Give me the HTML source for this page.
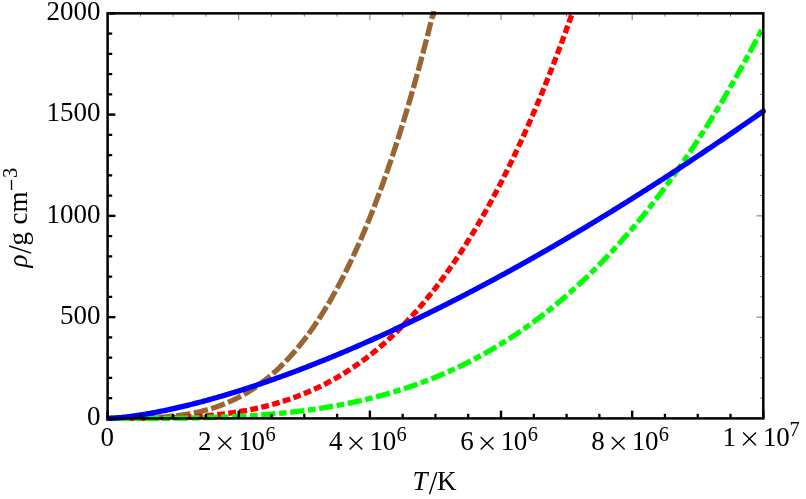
<!DOCTYPE html>
<html><head><meta charset="utf-8">
<style>
html,body{margin:0;padding:0;background:#fff;}
svg{display:block;will-change:transform;}
text{font-family:"Liberation Serif",serif;font-size:27px;fill:#000;}
</style></head>
<body>
<svg width="806" height="499" viewBox="0 0 806 499">
<rect width="806" height="499" fill="#fff"/>
<defs><clipPath id="c"><rect x="106.50" y="10.95" width="659.40" height="411.45"/></clipPath></defs>
<g clip-path="url(#c)" fill="none" stroke-width="5.3" stroke-linejoin="round" stroke-linecap="square">
<path d="M107.60,418.40 L108.69,418.40 L109.79,418.40 L110.88,418.40 L111.98,418.40 L113.07,418.40 L114.17,418.40 L115.26,418.40 L116.36,418.40 L117.45,418.40 L118.55,418.39 L119.64,418.39 L120.74,418.39 L121.83,418.38 L122.93,418.38 L124.02,418.38 L125.11,418.37 L126.21,418.36 L127.30,418.36 L128.40,418.35 L129.49,418.34 L130.59,418.33 L131.68,418.31 L132.78,418.30 L133.87,418.29 L134.97,418.27 L136.06,418.25 L137.16,418.23 L138.25,418.21 L139.35,418.19 L140.44,418.17 L141.53,418.14 L142.63,418.11 L143.72,418.08 L144.82,418.05 L145.91,418.01 L147.01,417.98 L148.10,417.94 L149.20,417.89 L150.29,417.85 L151.39,417.80 L152.48,417.75 L153.58,417.70 L154.67,417.64 L155.76,417.59 L156.86,417.52 L157.95,417.46 L159.05,417.39 L160.14,417.32 L161.24,417.25 L162.33,417.17 L163.43,417.08 L164.52,417.00 L165.62,416.91 L166.71,416.82 L167.81,416.72 L168.90,416.62 L170.00,416.51 L171.09,416.40 L172.18,416.29 L173.28,416.17 L174.37,416.05 L175.47,415.92 L176.56,415.79 L177.66,415.65 L178.75,415.51 L179.85,415.36 L180.94,415.21 L182.04,415.05 L183.13,414.89 L184.23,414.72 L185.32,414.55 L186.42,414.37 L187.51,414.18 L188.60,413.99 L189.70,413.79 L190.79,413.59 L191.89,413.38 L192.98,413.17 L194.08,412.95 L195.17,412.72 L196.27,412.48 L197.36,412.24 L198.46,412.00 L199.55,411.74 L200.65,411.48 L201.74,411.21 L202.84,410.94 L203.93,410.66 L205.02,410.37 L206.12,410.07 L207.21,409.76 L208.31,409.45 L209.40,409.13 L210.50,408.80 L211.59,408.47 L212.69,408.12 L213.78,407.77 L214.88,407.41 L215.97,407.04 L217.07,406.67 L218.16,406.28 L219.26,405.89 L220.35,405.48 L221.44,405.07 L222.54,404.65 L223.63,404.22 L224.73,403.78 L225.82,403.33 L226.92,402.87 L228.01,402.41 L229.11,401.93 L230.20,401.44 L231.30,400.94 L232.39,400.44 L233.49,399.92 L234.58,399.39 L235.67,398.86 L236.77,398.31 L237.86,397.75 L238.96,397.18 L240.05,396.60 L241.15,396.01 L242.24,395.41 L243.34,394.79 L244.43,394.17 L245.53,393.53 L246.62,392.89 L247.72,392.23 L248.81,391.56 L249.91,390.87 L251.00,390.18 L252.09,389.47 L253.19,388.76 L254.28,388.02 L255.38,387.28 L256.47,386.53 L257.57,385.76 L258.66,384.98 L259.76,384.18 L260.85,383.38 L261.95,382.56 L263.04,381.73 L264.14,380.88 L265.23,380.02 L266.33,379.15 L267.42,378.26 L268.51,377.36 L269.61,376.45 L270.70,375.52 L271.80,374.57 L272.89,373.62 L273.99,372.65 L275.08,371.66 L276.18,370.66 L277.27,369.65 L278.37,368.62 L279.46,367.57 L280.56,366.51 L281.65,365.44 L282.75,364.35 L283.84,363.24 L284.93,362.12 L286.03,360.98 L287.12,359.83 L288.22,358.66 L289.31,357.48 L290.41,356.28 L291.50,355.06 L292.60,353.83 L293.69,352.58 L294.79,351.31 L295.88,350.02 L296.98,348.72 L298.07,347.41 L299.17,346.07 L300.26,344.72 L301.35,343.35 L302.45,341.96 L303.54,340.56 L304.64,339.14 L305.73,337.70 L306.83,336.24 L307.92,334.76 L309.02,333.27 L310.11,331.76 L311.21,330.22 L312.30,328.67 L313.40,327.11 L314.49,325.52 L315.58,323.91 L316.68,322.29 L317.77,320.64 L318.87,318.98 L319.96,317.29 L321.06,315.59 L322.15,313.86 L323.25,312.12 L324.34,310.36 L325.44,308.57 L326.53,306.77 L327.63,304.95 L328.72,303.10 L329.82,301.24 L330.91,299.35 L332.00,297.44 L333.10,295.51 L334.19,293.57 L335.29,291.60 L336.38,289.60 L337.48,287.59 L338.57,285.55 L339.67,283.50 L340.76,281.42 L341.86,279.32 L342.95,277.19 L344.05,275.05 L345.14,272.88 L346.24,270.69 L347.33,268.48 L348.42,266.24 L349.52,263.98 L350.61,261.70 L351.71,259.39 L352.80,257.06 L353.90,254.71 L354.99,252.33 L356.09,249.93 L357.18,247.51 L358.28,245.06 L359.37,242.59 L360.47,240.09 L361.56,237.57 L362.66,235.03 L363.75,232.46 L364.84,229.86 L365.94,227.24 L367.03,224.60 L368.13,221.93 L369.22,219.23 L370.32,216.51 L371.41,213.76 L372.51,210.99 L373.60,208.19 L374.70,205.37 L375.79,202.52 L376.89,199.64 L377.98,196.74 L379.08,193.81 L380.17,190.85 L381.26,187.87 L382.36,184.86 L383.45,181.82 L384.55,178.75 L385.64,175.66 L386.74,172.54 L387.83,169.39 L388.93,166.22 L390.02,163.02 L391.12,159.78 L392.21,156.53 L393.31,153.24 L394.40,149.92 L395.49,146.58 L396.59,143.20 L397.68,139.80 L398.78,136.37 L399.87,132.91 L400.97,129.42 L402.06,125.90 L403.16,122.35 L404.25,118.77 L405.35,115.16 L406.44,111.53 L407.54,107.86 L408.63,104.16 L409.73,100.43 L410.82,96.67 L411.91,92.88 L413.01,89.06 L414.10,85.21 L415.20,81.33 L416.29,77.41 L417.39,73.47 L418.48,69.49 L419.58,65.48 L420.67,61.44 L421.77,57.37 L422.86,53.26 L423.96,49.13 L425.05,44.96 L426.15,40.76 L427.24,36.52 L428.33,32.26 L429.43,27.96 L430.52,23.62 L431.62,19.26 L432.71,14.86 L433.09,13.35" stroke="#996633" stroke-dasharray="9.2 8.69" stroke-dashoffset="0.25"/>
<path d="M107.60,418.40 L108.69,418.40 L109.79,418.40 L110.88,418.40 L111.98,418.40 L113.07,418.40 L114.17,418.40 L115.26,418.40 L116.36,418.40 L117.45,418.40 L118.55,418.40 L119.64,418.40 L120.74,418.40 L121.83,418.40 L122.93,418.39 L124.02,418.39 L125.11,418.39 L126.21,418.39 L127.30,418.39 L128.40,418.38 L129.49,418.38 L130.59,418.38 L131.68,418.37 L132.78,418.37 L133.87,418.36 L134.97,418.36 L136.06,418.35 L137.16,418.35 L138.25,418.34 L139.35,418.33 L140.44,418.33 L141.53,418.32 L142.63,418.31 L143.72,418.30 L144.82,418.29 L145.91,418.28 L147.01,418.27 L148.10,418.25 L149.20,418.24 L150.29,418.23 L151.39,418.21 L152.48,418.20 L153.58,418.18 L154.67,418.16 L155.76,418.14 L156.86,418.12 L157.95,418.10 L159.05,418.08 L160.14,418.06 L161.24,418.04 L162.33,418.01 L163.43,417.99 L164.52,417.96 L165.62,417.93 L166.71,417.90 L167.81,417.87 L168.90,417.84 L170.00,417.81 L171.09,417.77 L172.18,417.74 L173.28,417.70 L174.37,417.66 L175.47,417.62 L176.56,417.58 L177.66,417.53 L178.75,417.49 L179.85,417.44 L180.94,417.40 L182.04,417.35 L183.13,417.30 L184.23,417.24 L185.32,417.19 L186.42,417.13 L187.51,417.07 L188.60,417.01 L189.70,416.95 L190.79,416.89 L191.89,416.82 L192.98,416.75 L194.08,416.68 L195.17,416.61 L196.27,416.54 L197.36,416.46 L198.46,416.39 L199.55,416.31 L200.65,416.22 L201.74,416.14 L202.84,416.05 L203.93,415.96 L205.02,415.87 L206.12,415.78 L207.21,415.68 L208.31,415.59 L209.40,415.48 L210.50,415.38 L211.59,415.28 L212.69,415.17 L213.78,415.06 L214.88,414.94 L215.97,414.83 L217.07,414.71 L218.16,414.59 L219.26,414.46 L220.35,414.34 L221.44,414.21 L222.54,414.08 L223.63,413.94 L224.73,413.80 L225.82,413.66 L226.92,413.52 L228.01,413.37 L229.11,413.22 L230.20,413.07 L231.30,412.91 L232.39,412.75 L233.49,412.59 L234.58,412.42 L235.67,412.25 L236.77,412.08 L237.86,411.90 L238.96,411.73 L240.05,411.54 L241.15,411.36 L242.24,411.17 L243.34,410.97 L244.43,410.78 L245.53,410.58 L246.62,410.37 L247.72,410.17 L248.81,409.96 L249.91,409.74 L251.00,409.52 L252.09,409.30 L253.19,409.08 L254.28,408.85 L255.38,408.61 L256.47,408.37 L257.57,408.13 L258.66,407.89 L259.76,407.64 L260.85,407.38 L261.95,407.13 L263.04,406.86 L264.14,406.60 L265.23,406.33 L266.33,406.05 L267.42,405.77 L268.51,405.49 L269.61,405.20 L270.70,404.91 L271.80,404.62 L272.89,404.31 L273.99,404.01 L275.08,403.70 L276.18,403.38 L277.27,403.07 L278.37,402.74 L279.46,402.41 L280.56,402.08 L281.65,401.74 L282.75,401.40 L283.84,401.05 L284.93,400.70 L286.03,400.34 L287.12,399.98 L288.22,399.61 L289.31,399.24 L290.41,398.86 L291.50,398.48 L292.60,398.09 L293.69,397.70 L294.79,397.30 L295.88,396.89 L296.98,396.49 L298.07,396.07 L299.17,395.65 L300.26,395.23 L301.35,394.80 L302.45,394.36 L303.54,393.92 L304.64,393.47 L305.73,393.02 L306.83,392.56 L307.92,392.09 L309.02,391.62 L310.11,391.15 L311.21,390.67 L312.30,390.18 L313.40,389.69 L314.49,389.19 L315.58,388.68 L316.68,388.17 L317.77,387.65 L318.87,387.13 L319.96,386.60 L321.06,386.06 L322.15,385.52 L323.25,384.97 L324.34,384.42 L325.44,383.86 L326.53,383.29 L327.63,382.72 L328.72,382.14 L329.82,381.55 L330.91,380.96 L332.00,380.36 L333.10,379.75 L334.19,379.14 L335.29,378.52 L336.38,377.89 L337.48,377.26 L338.57,376.62 L339.67,375.97 L340.76,375.32 L341.86,374.65 L342.95,373.99 L344.05,373.31 L345.14,372.63 L346.24,371.94 L347.33,371.24 L348.42,370.54 L349.52,369.83 L350.61,369.11 L351.71,368.39 L352.80,367.65 L353.90,366.91 L354.99,366.17 L356.09,365.41 L357.18,364.65 L358.28,363.88 L359.37,363.10 L360.47,362.32 L361.56,361.52 L362.66,360.72 L363.75,359.92 L364.84,359.10 L365.94,358.28 L367.03,357.44 L368.13,356.60 L369.22,355.76 L370.32,354.90 L371.41,354.04 L372.51,353.16 L373.60,352.28 L374.70,351.40 L375.79,350.50 L376.89,349.59 L377.98,348.68 L379.08,347.76 L380.17,346.83 L381.26,345.89 L382.36,344.94 L383.45,343.99 L384.55,343.02 L385.64,342.05 L386.74,341.07 L387.83,340.08 L388.93,339.08 L390.02,338.07 L391.12,337.06 L392.21,336.03 L393.31,335.00 L394.40,333.96 L395.49,332.90 L396.59,331.84 L397.68,330.77 L398.78,329.69 L399.87,328.61 L400.97,327.51 L402.06,326.40 L403.16,325.28 L404.25,324.16 L405.35,323.02 L406.44,321.88 L407.54,320.73 L408.63,319.56 L409.73,318.39 L410.82,317.21 L411.91,316.02 L413.01,314.81 L414.10,313.60 L415.20,312.38 L416.29,311.15 L417.39,309.91 L418.48,308.66 L419.58,307.40 L420.67,306.13 L421.77,304.85 L422.86,303.55 L423.96,302.25 L425.05,300.94 L426.15,299.62 L427.24,298.29 L428.33,296.95 L429.43,295.59 L430.52,294.23 L431.62,292.86 L432.71,291.47 L433.81,290.08 L434.90,288.68 L436.00,287.26 L437.09,285.83 L438.19,284.40 L439.28,282.95 L440.38,281.49 L441.47,280.02 L442.57,278.54 L443.66,277.05 L444.75,275.55 L445.85,274.04 L446.94,272.51 L448.04,270.98 L449.13,269.43 L450.23,267.88 L451.32,266.31 L452.42,264.73 L453.51,263.14 L454.61,261.53 L455.70,259.92 L456.80,258.29 L457.89,256.66 L458.99,255.01 L460.08,253.35 L461.17,251.68 L462.27,249.99 L463.36,248.30 L464.46,246.59 L465.55,244.87 L466.65,243.14 L467.74,241.40 L468.84,239.64 L469.93,237.88 L471.03,236.10 L472.12,234.31 L473.22,232.51 L474.31,230.69 L475.41,228.86 L476.50,227.02 L477.59,225.17 L478.69,223.31 L479.78,221.43 L480.88,219.54 L481.97,217.64 L483.07,215.73 L484.16,213.80 L485.26,211.86 L486.35,209.91 L487.45,207.94 L488.54,205.97 L489.64,203.98 L490.73,201.97 L491.82,199.96 L492.92,197.93 L494.01,195.89 L495.11,193.83 L496.20,191.76 L497.30,189.68 L498.39,187.59 L499.49,185.48 L500.58,183.36 L501.68,181.22 L502.77,179.08 L503.87,176.91 L504.96,174.74 L506.06,172.55 L507.15,170.35 L508.24,168.13 L509.34,165.90 L510.43,163.66 L511.53,161.40 L512.62,159.13 L513.72,156.85 L514.81,154.55 L515.91,152.24 L517.00,149.91 L518.10,147.57 L519.19,145.22 L520.29,142.85 L521.38,140.47 L522.48,138.07 L523.57,135.66 L524.66,133.24 L525.76,130.80 L526.85,128.34 L527.95,125.87 L529.04,123.39 L530.14,120.89 L531.23,118.38 L532.33,115.85 L533.42,113.31 L534.52,110.76 L535.61,108.18 L536.71,105.60 L537.80,103.00 L538.90,100.38 L539.99,97.75 L541.08,95.11 L542.18,92.44 L543.27,89.77 L544.37,87.08 L545.46,84.37 L546.56,81.65 L547.65,78.91 L548.75,76.16 L549.84,73.39 L550.94,70.61 L552.03,67.81 L553.13,65.00 L554.22,62.17 L555.32,59.32 L556.41,56.46 L557.50,53.58 L558.60,50.69 L559.69,47.78 L560.79,44.86 L561.88,41.92 L562.98,38.96 L564.07,35.99 L565.17,33.00 L566.26,29.99 L567.36,26.97 L568.45,23.94 L569.55,20.88 L570.64,17.81 L571.73,14.73 L572.22,13.35" stroke="#ff0000" stroke-dasharray="2.5 8.67" stroke-dashoffset="-0.71"/>
<path d="M107.60,418.40 L108.69,418.40 L109.79,418.40 L110.88,418.40 L111.98,418.40 L113.07,418.40 L114.17,418.40 L115.26,418.40 L116.36,418.40 L117.45,418.40 L118.55,418.40 L119.64,418.40 L120.74,418.40 L121.83,418.40 L122.93,418.40 L124.02,418.40 L125.11,418.40 L126.21,418.40 L127.30,418.40 L128.40,418.39 L129.49,418.39 L130.59,418.39 L131.68,418.39 L132.78,418.39 L133.87,418.39 L134.97,418.39 L136.06,418.39 L137.16,418.38 L138.25,418.38 L139.35,418.38 L140.44,418.38 L141.53,418.37 L142.63,418.37 L143.72,418.37 L144.82,418.37 L145.91,418.36 L147.01,418.36 L148.10,418.35 L149.20,418.35 L150.29,418.35 L151.39,418.34 L152.48,418.34 L153.58,418.33 L154.67,418.32 L155.76,418.32 L156.86,418.31 L157.95,418.31 L159.05,418.30 L160.14,418.29 L161.24,418.29 L162.33,418.28 L163.43,418.27 L164.52,418.26 L165.62,418.25 L166.71,418.24 L167.81,418.23 L168.90,418.22 L170.00,418.21 L171.09,418.20 L172.18,418.19 L173.28,418.18 L174.37,418.17 L175.47,418.15 L176.56,418.14 L177.66,418.13 L178.75,418.11 L179.85,418.10 L180.94,418.08 L182.04,418.07 L183.13,418.05 L184.23,418.03 L185.32,418.02 L186.42,418.00 L187.51,417.98 L188.60,417.96 L189.70,417.94 L190.79,417.92 L191.89,417.90 L192.98,417.88 L194.08,417.86 L195.17,417.84 L196.27,417.81 L197.36,417.79 L198.46,417.76 L199.55,417.74 L200.65,417.71 L201.74,417.69 L202.84,417.66 L203.93,417.63 L205.02,417.60 L206.12,417.57 L207.21,417.54 L208.31,417.51 L209.40,417.48 L210.50,417.45 L211.59,417.41 L212.69,417.38 L213.78,417.34 L214.88,417.31 L215.97,417.27 L217.07,417.24 L218.16,417.20 L219.26,417.16 L220.35,417.12 L221.44,417.08 L222.54,417.03 L223.63,416.99 L224.73,416.95 L225.82,416.90 L226.92,416.86 L228.01,416.81 L229.11,416.76 L230.20,416.72 L231.30,416.67 L232.39,416.62 L233.49,416.57 L234.58,416.51 L235.67,416.46 L236.77,416.41 L237.86,416.35 L238.96,416.29 L240.05,416.24 L241.15,416.18 L242.24,416.12 L243.34,416.06 L244.43,415.99 L245.53,415.93 L246.62,415.87 L247.72,415.80 L248.81,415.73 L249.91,415.67 L251.00,415.60 L252.09,415.53 L253.19,415.46 L254.28,415.38 L255.38,415.31 L256.47,415.24 L257.57,415.16 L258.66,415.08 L259.76,415.00 L260.85,414.92 L261.95,414.84 L263.04,414.76 L264.14,414.67 L265.23,414.59 L266.33,414.50 L267.42,414.41 L268.51,414.33 L269.61,414.23 L270.70,414.14 L271.80,414.05 L272.89,413.95 L273.99,413.86 L275.08,413.76 L276.18,413.66 L277.27,413.56 L278.37,413.46 L279.46,413.35 L280.56,413.25 L281.65,413.14 L282.75,413.03 L283.84,412.92 L284.93,412.81 L286.03,412.70 L287.12,412.59 L288.22,412.47 L289.31,412.35 L290.41,412.23 L291.50,412.11 L292.60,411.99 L293.69,411.86 L294.79,411.74 L295.88,411.61 L296.98,411.48 L298.07,411.35 L299.17,411.22 L300.26,411.09 L301.35,410.95 L302.45,410.81 L303.54,410.67 L304.64,410.53 L305.73,410.39 L306.83,410.24 L307.92,410.10 L309.02,409.95 L310.11,409.80 L311.21,409.65 L312.30,409.49 L313.40,409.34 L314.49,409.18 L315.58,409.02 L316.68,408.86 L317.77,408.69 L318.87,408.53 L319.96,408.36 L321.06,408.19 L322.15,408.02 L323.25,407.85 L324.34,407.67 L325.44,407.50 L326.53,407.32 L327.63,407.14 L328.72,406.95 L329.82,406.77 L330.91,406.58 L332.00,406.39 L333.10,406.20 L334.19,406.01 L335.29,405.81 L336.38,405.61 L337.48,405.41 L338.57,405.21 L339.67,405.01 L340.76,404.80 L341.86,404.59 L342.95,404.38 L344.05,404.17 L345.14,403.95 L346.24,403.74 L347.33,403.52 L348.42,403.29 L349.52,403.07 L350.61,402.84 L351.71,402.61 L352.80,402.38 L353.90,402.15 L354.99,401.91 L356.09,401.67 L357.18,401.43 L358.28,401.19 L359.37,400.95 L360.47,400.70 L361.56,400.45 L362.66,400.19 L363.75,399.94 L364.84,399.68 L365.94,399.42 L367.03,399.16 L368.13,398.89 L369.22,398.63 L370.32,398.36 L371.41,398.08 L372.51,397.81 L373.60,397.53 L374.70,397.25 L375.79,396.97 L376.89,396.68 L377.98,396.39 L379.08,396.10 L380.17,395.81 L381.26,395.51 L382.36,395.21 L383.45,394.91 L384.55,394.61 L385.64,394.30 L386.74,393.99 L387.83,393.68 L388.93,393.36 L390.02,393.05 L391.12,392.72 L392.21,392.40 L393.31,392.07 L394.40,391.75 L395.49,391.41 L396.59,391.08 L397.68,390.74 L398.78,390.40 L399.87,390.06 L400.97,389.71 L402.06,389.36 L403.16,389.01 L404.25,388.65 L405.35,388.29 L406.44,387.93 L407.54,387.57 L408.63,387.20 L409.73,386.83 L410.82,386.46 L411.91,386.08 L413.01,385.70 L414.10,385.32 L415.20,384.93 L416.29,384.55 L417.39,384.15 L418.48,383.76 L419.58,383.36 L420.67,382.96 L421.77,382.56 L422.86,382.15 L423.96,381.74 L425.05,381.32 L426.15,380.91 L427.24,380.49 L428.33,380.06 L429.43,379.64 L430.52,379.21 L431.62,378.77 L432.71,378.34 L433.81,377.90 L434.90,377.45 L436.00,377.01 L437.09,376.56 L438.19,376.10 L439.28,375.65 L440.38,375.18 L441.47,374.72 L442.57,374.25 L443.66,373.78 L444.75,373.31 L445.85,372.83 L446.94,372.35 L448.04,371.87 L449.13,371.38 L450.23,370.89 L451.32,370.39 L452.42,369.89 L453.51,369.39 L454.61,368.88 L455.70,368.38 L456.80,367.86 L457.89,367.35 L458.99,366.82 L460.08,366.30 L461.17,365.77 L462.27,365.24 L463.36,364.71 L464.46,364.17 L465.55,363.63 L466.65,363.08 L467.74,362.53 L468.84,361.98 L469.93,361.42 L471.03,360.86 L472.12,360.29 L473.22,359.72 L474.31,359.15 L475.41,358.57 L476.50,357.99 L477.59,357.41 L478.69,356.82 L479.78,356.23 L480.88,355.63 L481.97,355.03 L483.07,354.43 L484.16,353.82 L485.26,353.21 L486.35,352.59 L487.45,351.97 L488.54,351.35 L489.64,350.72 L490.73,350.08 L491.82,349.45 L492.92,348.81 L494.01,348.16 L495.11,347.51 L496.20,346.86 L497.30,346.20 L498.39,345.54 L499.49,344.88 L500.58,344.21 L501.68,343.53 L502.77,342.86 L503.87,342.17 L504.96,341.49 L506.06,340.80 L507.15,340.10 L508.24,339.40 L509.34,338.70 L510.43,337.99 L511.53,337.28 L512.62,336.56 L513.72,335.84 L514.81,335.12 L515.91,334.39 L517.00,333.65 L518.10,332.91 L519.19,332.17 L520.29,331.42 L521.38,330.67 L522.48,329.91 L523.57,329.15 L524.66,328.39 L525.76,327.62 L526.85,326.84 L527.95,326.06 L529.04,325.28 L530.14,324.49 L531.23,323.70 L532.33,322.90 L533.42,322.10 L534.52,321.29 L535.61,320.48 L536.71,319.66 L537.80,318.84 L538.90,318.02 L539.99,317.19 L541.08,316.35 L542.18,315.51 L543.27,314.67 L544.37,313.82 L545.46,312.96 L546.56,312.10 L547.65,311.24 L548.75,310.37 L549.84,309.50 L550.94,308.62 L552.03,307.74 L553.13,306.85 L554.22,305.95 L555.32,305.06 L556.41,304.15 L557.50,303.24 L558.60,302.33 L559.69,301.41 L560.79,300.49 L561.88,299.56 L562.98,298.63 L564.07,297.69 L565.17,296.75 L566.26,295.80 L567.36,294.85 L568.45,293.89 L569.55,292.92 L570.64,291.95 L571.73,290.98 L572.83,290.00 L573.92,289.02 L575.02,288.03 L576.11,287.03 L577.21,286.03 L578.30,285.03 L579.40,284.02 L580.49,283.00 L581.59,281.98 L582.68,280.95 L583.78,279.92 L584.87,278.88 L585.97,277.84 L587.06,276.79 L588.15,275.74 L589.25,274.68 L590.34,273.62 L591.44,272.55 L592.53,271.47 L593.63,270.39 L594.72,269.30 L595.82,268.21 L596.91,267.11 L598.01,266.01 L599.10,264.90 L600.20,263.79 L601.29,262.67 L602.39,261.55 L603.48,260.41 L604.57,259.28 L605.67,258.14 L606.76,256.99 L607.86,255.84 L608.95,254.68 L610.05,253.51 L611.14,252.34 L612.24,251.17 L613.33,249.98 L614.43,248.80 L615.52,247.60 L616.62,246.40 L617.71,245.20 L618.81,243.99 L619.90,242.77 L620.99,241.55 L622.09,240.32 L623.18,239.09 L624.28,237.85 L625.37,236.60 L626.47,235.35 L627.56,234.09 L628.66,232.82 L629.75,231.55 L630.85,230.28 L631.94,229.00 L633.04,227.71 L634.13,226.41 L635.23,225.11 L636.32,223.81 L637.41,222.50 L638.51,221.18 L639.60,219.85 L640.70,218.52 L641.79,217.18 L642.89,215.84 L643.98,214.49 L645.08,213.14 L646.17,211.77 L647.27,210.41 L648.36,209.03 L649.46,207.65 L650.55,206.26 L651.64,204.87 L652.74,203.47 L653.83,202.07 L654.93,200.65 L656.02,199.24 L657.12,197.81 L658.21,196.38 L659.31,194.94 L660.40,193.50 L661.50,192.05 L662.59,190.59 L663.69,189.13 L664.78,187.66 L665.88,186.18 L666.97,184.70 L668.06,183.21 L669.16,181.71 L670.25,180.21 L671.35,178.70 L672.44,177.18 L673.54,175.66 L674.63,174.13 L675.73,172.59 L676.82,171.05 L677.92,169.50 L679.01,167.95 L680.11,166.38 L681.20,164.81 L682.30,163.24 L683.39,161.66 L684.48,160.07 L685.58,158.47 L686.67,156.87 L687.77,155.26 L688.86,153.64 L689.96,152.01 L691.05,150.38 L692.15,148.75 L693.24,147.10 L694.34,145.45 L695.43,143.79 L696.53,142.13 L697.62,140.45 L698.72,138.77 L699.81,137.09 L700.90,135.39 L702.00,133.69 L703.09,131.99 L704.19,130.27 L705.28,128.55 L706.38,126.82 L707.47,125.08 L708.57,123.34 L709.66,121.59 L710.76,119.83 L711.85,118.07 L712.95,116.30 L714.04,114.52 L715.14,112.73 L716.23,110.94 L717.32,109.14 L718.42,107.33 L719.51,105.51 L720.61,103.69 L721.70,101.86 L722.80,100.02 L723.89,98.18 L724.99,96.33 L726.08,94.47 L727.18,92.60 L728.27,90.73 L729.37,88.84 L730.46,86.95 L731.55,85.06 L732.65,83.15 L733.74,81.24 L734.84,79.32 L735.93,77.39 L737.03,75.46 L738.12,73.52 L739.22,71.57 L740.31,69.61 L741.41,67.65 L742.50,65.67 L743.60,63.69 L744.69,61.70 L745.79,59.71 L746.88,57.71 L747.97,55.69 L749.07,53.68 L750.16,51.65 L751.26,49.61 L752.35,47.57 L753.45,45.52 L754.54,43.46 L755.64,41.40 L756.73,39.32 L757.83,37.24 L758.92,35.15 L760.02,33.06 L761.11,30.95 L762.21,28.84 L763.30,26.72" stroke="#00ff00" stroke-dasharray="2.3 8.9 9.0 8.9" stroke-dashoffset="0.35"/>
<path d="M107.60,418.40 L108.69,418.38 L109.79,418.34 L110.88,418.29 L111.98,418.23 L113.07,418.17 L114.17,418.09 L115.26,418.01 L116.36,417.93 L117.45,417.83 L118.55,417.74 L119.64,417.64 L120.74,417.53 L121.83,417.42 L122.93,417.30 L124.02,417.18 L125.11,417.06 L126.21,416.93 L127.30,416.80 L128.40,416.66 L129.49,416.53 L130.59,416.38 L131.68,416.24 L132.78,416.09 L133.87,415.94 L134.97,415.78 L136.06,415.62 L137.16,415.46 L138.25,415.30 L139.35,415.13 L140.44,414.96 L141.53,414.78 L142.63,414.61 L143.72,414.43 L144.82,414.25 L145.91,414.06 L147.01,413.87 L148.10,413.68 L149.20,413.49 L150.29,413.30 L151.39,413.10 L152.48,412.90 L153.58,412.70 L154.67,412.49 L155.76,412.28 L156.86,412.07 L157.95,411.86 L159.05,411.65 L160.14,411.43 L161.24,411.21 L162.33,410.99 L163.43,410.77 L164.52,410.54 L165.62,410.31 L166.71,410.08 L167.81,409.85 L168.90,409.62 L170.00,409.38 L171.09,409.14 L172.18,408.90 L173.28,408.66 L174.37,408.42 L175.47,408.17 L176.56,407.92 L177.66,407.67 L178.75,407.42 L179.85,407.16 L180.94,406.91 L182.04,406.65 L183.13,406.39 L184.23,406.13 L185.32,405.86 L186.42,405.60 L187.51,405.33 L188.60,405.06 L189.70,404.79 L190.79,404.52 L191.89,404.24 L192.98,403.96 L194.08,403.68 L195.17,403.40 L196.27,403.12 L197.36,402.84 L198.46,402.55 L199.55,402.27 L200.65,401.98 L201.74,401.69 L202.84,401.39 L203.93,401.10 L205.02,400.80 L206.12,400.51 L207.21,400.21 L208.31,399.91 L209.40,399.60 L210.50,399.30 L211.59,399.00 L212.69,398.69 L213.78,398.38 L214.88,398.07 L215.97,397.76 L217.07,397.44 L218.16,397.13 L219.26,396.81 L220.35,396.49 L221.44,396.17 L222.54,395.85 L223.63,395.53 L224.73,395.20 L225.82,394.88 L226.92,394.55 L228.01,394.22 L229.11,393.89 L230.20,393.56 L231.30,393.23 L232.39,392.89 L233.49,392.56 L234.58,392.22 L235.67,391.88 L236.77,391.54 L237.86,391.20 L238.96,390.85 L240.05,390.51 L241.15,390.16 L242.24,389.81 L243.34,389.46 L244.43,389.11 L245.53,388.76 L246.62,388.41 L247.72,388.05 L248.81,387.70 L249.91,387.34 L251.00,386.98 L252.09,386.62 L253.19,386.26 L254.28,385.89 L255.38,385.53 L256.47,385.16 L257.57,384.79 L258.66,384.43 L259.76,384.06 L260.85,383.69 L261.95,383.31 L263.04,382.94 L264.14,382.56 L265.23,382.19 L266.33,381.81 L267.42,381.43 L268.51,381.05 L269.61,380.67 L270.70,380.28 L271.80,379.90 L272.89,379.51 L273.99,379.13 L275.08,378.74 L276.18,378.35 L277.27,377.96 L278.37,377.57 L279.46,377.17 L280.56,376.78 L281.65,376.38 L282.75,375.99 L283.84,375.59 L284.93,375.19 L286.03,374.79 L287.12,374.39 L288.22,373.98 L289.31,373.58 L290.41,373.17 L291.50,372.77 L292.60,372.36 L293.69,371.95 L294.79,371.54 L295.88,371.13 L296.98,370.71 L298.07,370.30 L299.17,369.88 L300.26,369.47 L301.35,369.05 L302.45,368.63 L303.54,368.21 L304.64,367.79 L305.73,367.37 L306.83,366.94 L307.92,366.52 L309.02,366.09 L310.11,365.67 L311.21,365.24 L312.30,364.81 L313.40,364.38 L314.49,363.95 L315.58,363.51 L316.68,363.08 L317.77,362.65 L318.87,362.21 L319.96,361.77 L321.06,361.33 L322.15,360.89 L323.25,360.45 L324.34,360.01 L325.44,359.57 L326.53,359.13 L327.63,358.68 L328.72,358.23 L329.82,357.79 L330.91,357.34 L332.00,356.89 L333.10,356.44 L334.19,355.99 L335.29,355.53 L336.38,355.08 L337.48,354.62 L338.57,354.17 L339.67,353.71 L340.76,353.25 L341.86,352.79 L342.95,352.33 L344.05,351.87 L345.14,351.41 L346.24,350.95 L347.33,350.48 L348.42,350.02 L349.52,349.55 L350.61,349.08 L351.71,348.61 L352.80,348.14 L353.90,347.67 L354.99,347.20 L356.09,346.73 L357.18,346.25 L358.28,345.78 L359.37,345.30 L360.47,344.82 L361.56,344.34 L362.66,343.87 L363.75,343.39 L364.84,342.90 L365.94,342.42 L367.03,341.94 L368.13,341.45 L369.22,340.97 L370.32,340.48 L371.41,339.99 L372.51,339.51 L373.60,339.02 L374.70,338.53 L375.79,338.03 L376.89,337.54 L377.98,337.05 L379.08,336.55 L380.17,336.06 L381.26,335.56 L382.36,335.06 L383.45,334.57 L384.55,334.07 L385.64,333.57 L386.74,333.06 L387.83,332.56 L388.93,332.06 L390.02,331.55 L391.12,331.05 L392.21,330.54 L393.31,330.03 L394.40,329.53 L395.49,329.02 L396.59,328.51 L397.68,327.99 L398.78,327.48 L399.87,326.97 L400.97,326.46 L402.06,325.94 L403.16,325.42 L404.25,324.91 L405.35,324.39 L406.44,323.87 L407.54,323.35 L408.63,322.83 L409.73,322.31 L410.82,321.79 L411.91,321.26 L413.01,320.74 L414.10,320.21 L415.20,319.68 L416.29,319.16 L417.39,318.63 L418.48,318.10 L419.58,317.57 L420.67,317.04 L421.77,316.51 L422.86,315.97 L423.96,315.44 L425.05,314.90 L426.15,314.37 L427.24,313.83 L428.33,313.29 L429.43,312.76 L430.52,312.22 L431.62,311.68 L432.71,311.13 L433.81,310.59 L434.90,310.05 L436.00,309.51 L437.09,308.96 L438.19,308.41 L439.28,307.87 L440.38,307.32 L441.47,306.77 L442.57,306.22 L443.66,305.67 L444.75,305.12 L445.85,304.57 L446.94,304.02 L448.04,303.46 L449.13,302.91 L450.23,302.35 L451.32,301.79 L452.42,301.24 L453.51,300.68 L454.61,300.12 L455.70,299.56 L456.80,299.00 L457.89,298.44 L458.99,297.87 L460.08,297.31 L461.17,296.75 L462.27,296.18 L463.36,295.61 L464.46,295.05 L465.55,294.48 L466.65,293.91 L467.74,293.34 L468.84,292.77 L469.93,292.20 L471.03,291.63 L472.12,291.05 L473.22,290.48 L474.31,289.90 L475.41,289.33 L476.50,288.75 L477.59,288.17 L478.69,287.60 L479.78,287.02 L480.88,286.44 L481.97,285.86 L483.07,285.27 L484.16,284.69 L485.26,284.11 L486.35,283.52 L487.45,282.94 L488.54,282.35 L489.64,281.76 L490.73,281.18 L491.82,280.59 L492.92,280.00 L494.01,279.41 L495.11,278.82 L496.20,278.23 L497.30,277.63 L498.39,277.04 L499.49,276.45 L500.58,275.85 L501.68,275.25 L502.77,274.66 L503.87,274.06 L504.96,273.46 L506.06,272.86 L507.15,272.26 L508.24,271.66 L509.34,271.06 L510.43,270.46 L511.53,269.85 L512.62,269.25 L513.72,268.64 L514.81,268.04 L515.91,267.43 L517.00,266.82 L518.10,266.22 L519.19,265.61 L520.29,265.00 L521.38,264.39 L522.48,263.77 L523.57,263.16 L524.66,262.55 L525.76,261.93 L526.85,261.32 L527.95,260.70 L529.04,260.09 L530.14,259.47 L531.23,258.85 L532.33,258.23 L533.42,257.61 L534.52,256.99 L535.61,256.37 L536.71,255.75 L537.80,255.13 L538.90,254.50 L539.99,253.88 L541.08,253.25 L542.18,252.63 L543.27,252.00 L544.37,251.37 L545.46,250.75 L546.56,250.12 L547.65,249.49 L548.75,248.86 L549.84,248.22 L550.94,247.59 L552.03,246.96 L553.13,246.33 L554.22,245.69 L555.32,245.06 L556.41,244.42 L557.50,243.78 L558.60,243.15 L559.69,242.51 L560.79,241.87 L561.88,241.23 L562.98,240.59 L564.07,239.95 L565.17,239.30 L566.26,238.66 L567.36,238.02 L568.45,237.37 L569.55,236.73 L570.64,236.08 L571.73,235.43 L572.83,234.79 L573.92,234.14 L575.02,233.49 L576.11,232.84 L577.21,232.19 L578.30,231.54 L579.40,230.88 L580.49,230.23 L581.59,229.58 L582.68,228.92 L583.78,228.27 L584.87,227.61 L585.97,226.95 L587.06,226.30 L588.15,225.64 L589.25,224.98 L590.34,224.32 L591.44,223.66 L592.53,223.00 L593.63,222.34 L594.72,221.67 L595.82,221.01 L596.91,220.35 L598.01,219.68 L599.10,219.01 L600.20,218.35 L601.29,217.68 L602.39,217.01 L603.48,216.34 L604.57,215.67 L605.67,215.00 L606.76,214.33 L607.86,213.66 L608.95,212.99 L610.05,212.32 L611.14,211.64 L612.24,210.97 L613.33,210.29 L614.43,209.62 L615.52,208.94 L616.62,208.26 L617.71,207.58 L618.81,206.91 L619.90,206.23 L620.99,205.55 L622.09,204.86 L623.18,204.18 L624.28,203.50 L625.37,202.82 L626.47,202.13 L627.56,201.45 L628.66,200.76 L629.75,200.08 L630.85,199.39 L631.94,198.70 L633.04,198.01 L634.13,197.32 L635.23,196.63 L636.32,195.94 L637.41,195.25 L638.51,194.56 L639.60,193.87 L640.70,193.17 L641.79,192.48 L642.89,191.79 L643.98,191.09 L645.08,190.39 L646.17,189.70 L647.27,189.00 L648.36,188.30 L649.46,187.60 L650.55,186.90 L651.64,186.20 L652.74,185.50 L653.83,184.80 L654.93,184.10 L656.02,183.39 L657.12,182.69 L658.21,181.98 L659.31,181.28 L660.40,180.57 L661.50,179.87 L662.59,179.16 L663.69,178.45 L664.78,177.74 L665.88,177.03 L666.97,176.32 L668.06,175.61 L669.16,174.90 L670.25,174.19 L671.35,173.47 L672.44,172.76 L673.54,172.05 L674.63,171.33 L675.73,170.61 L676.82,169.90 L677.92,169.18 L679.01,168.46 L680.11,167.74 L681.20,167.03 L682.30,166.31 L683.39,165.59 L684.48,164.86 L685.58,164.14 L686.67,163.42 L687.77,162.70 L688.86,161.97 L689.96,161.25 L691.05,160.52 L692.15,159.80 L693.24,159.07 L694.34,158.34 L695.43,157.61 L696.53,156.88 L697.62,156.16 L698.72,155.42 L699.81,154.69 L700.90,153.96 L702.00,153.23 L703.09,152.50 L704.19,151.76 L705.28,151.03 L706.38,150.29 L707.47,149.56 L708.57,148.82 L709.66,148.09 L710.76,147.35 L711.85,146.61 L712.95,145.87 L714.04,145.13 L715.14,144.39 L716.23,143.65 L717.32,142.91 L718.42,142.17 L719.51,141.42 L720.61,140.68 L721.70,139.94 L722.80,139.19 L723.89,138.45 L724.99,137.70 L726.08,136.95 L727.18,136.21 L728.27,135.46 L729.37,134.71 L730.46,133.96 L731.55,133.21 L732.65,132.46 L733.74,131.71 L734.84,130.95 L735.93,130.20 L737.03,129.45 L738.12,128.69 L739.22,127.94 L740.31,127.18 L741.41,126.43 L742.50,125.67 L743.60,124.91 L744.69,124.16 L745.79,123.40 L746.88,122.64 L747.97,121.88 L749.07,121.12 L750.16,120.36 L751.26,119.59 L752.35,118.83 L753.45,118.07 L754.54,117.30 L755.64,116.54 L756.73,115.77 L757.83,115.01 L758.92,114.24 L760.02,113.47 L761.11,112.71 L762.21,111.94 L763.30,111.17" stroke="#0000ff"/>
</g>
<g stroke="#000" stroke-width="2.4">
<line x1="107.60" y1="418.40" x2="107.60" y2="410.60"/><line x1="238.74" y1="418.40" x2="238.74" y2="410.60"/><line x1="369.88" y1="418.40" x2="369.88" y2="410.60"/><line x1="501.02" y1="418.40" x2="501.02" y2="410.60"/><line x1="632.16" y1="418.40" x2="632.16" y2="410.60"/><line x1="763.30" y1="418.40" x2="763.30" y2="410.60"/><line x1="107.60" y1="418.40" x2="115.40" y2="418.40"/><line x1="107.60" y1="317.14" x2="115.40" y2="317.14"/><line x1="107.60" y1="215.88" x2="115.40" y2="215.88"/><line x1="107.60" y1="114.61" x2="115.40" y2="114.61"/><line x1="107.60" y1="13.35" x2="115.40" y2="13.35"/>
</g>
<g stroke="#000" stroke-width="2.3">
<line x1="140.38" y1="418.40" x2="140.38" y2="413.80"/><line x1="173.17" y1="418.40" x2="173.17" y2="413.80"/><line x1="205.95" y1="418.40" x2="205.95" y2="413.80"/><line x1="271.52" y1="418.40" x2="271.52" y2="413.80"/><line x1="304.31" y1="418.40" x2="304.31" y2="413.80"/><line x1="337.09" y1="418.40" x2="337.09" y2="413.80"/><line x1="402.66" y1="418.40" x2="402.66" y2="413.80"/><line x1="435.45" y1="418.40" x2="435.45" y2="413.80"/><line x1="468.23" y1="418.40" x2="468.23" y2="413.80"/><line x1="533.80" y1="418.40" x2="533.80" y2="413.80"/><line x1="566.59" y1="418.40" x2="566.59" y2="413.80"/><line x1="599.37" y1="418.40" x2="599.37" y2="413.80"/><line x1="664.95" y1="418.40" x2="664.95" y2="413.80"/><line x1="697.73" y1="418.40" x2="697.73" y2="413.80"/><line x1="730.51" y1="418.40" x2="730.51" y2="413.80"/><line x1="107.60" y1="398.15" x2="112.20" y2="398.15"/><line x1="107.60" y1="377.89" x2="112.20" y2="377.89"/><line x1="107.60" y1="357.64" x2="112.20" y2="357.64"/><line x1="107.60" y1="337.39" x2="112.20" y2="337.39"/><line x1="107.60" y1="296.88" x2="112.20" y2="296.88"/><line x1="107.60" y1="276.63" x2="112.20" y2="276.63"/><line x1="107.60" y1="256.38" x2="112.20" y2="256.38"/><line x1="107.60" y1="236.13" x2="112.20" y2="236.13"/><line x1="107.60" y1="195.62" x2="112.20" y2="195.62"/><line x1="107.60" y1="175.37" x2="112.20" y2="175.37"/><line x1="107.60" y1="155.12" x2="112.20" y2="155.12"/><line x1="107.60" y1="134.87" x2="112.20" y2="134.87"/><line x1="107.60" y1="94.36" x2="112.20" y2="94.36"/><line x1="107.60" y1="74.11" x2="112.20" y2="74.11"/><line x1="107.60" y1="53.86" x2="112.20" y2="53.86"/><line x1="107.60" y1="33.60" x2="112.20" y2="33.60"/>
</g>
<g stroke="#333" stroke-width="0.65">
<line x1="107.60" y1="13.35" x2="107.60" y2="20.15"/><line x1="238.74" y1="13.35" x2="238.74" y2="20.15"/><line x1="369.88" y1="13.35" x2="369.88" y2="20.15"/><line x1="501.02" y1="13.35" x2="501.02" y2="20.15"/><line x1="632.16" y1="13.35" x2="632.16" y2="20.15"/><line x1="763.30" y1="13.35" x2="763.30" y2="20.15"/><line x1="763.30" y1="418.40" x2="756.50" y2="418.40"/><line x1="763.30" y1="317.14" x2="756.50" y2="317.14"/><line x1="763.30" y1="215.88" x2="756.50" y2="215.88"/><line x1="763.30" y1="114.61" x2="756.50" y2="114.61"/><line x1="763.30" y1="13.35" x2="756.50" y2="13.35"/>
<line x1="140.38" y1="13.35" x2="140.38" y2="16.65"/><line x1="173.17" y1="13.35" x2="173.17" y2="16.65"/><line x1="205.95" y1="13.35" x2="205.95" y2="16.65"/><line x1="271.52" y1="13.35" x2="271.52" y2="16.65"/><line x1="304.31" y1="13.35" x2="304.31" y2="16.65"/><line x1="337.09" y1="13.35" x2="337.09" y2="16.65"/><line x1="402.66" y1="13.35" x2="402.66" y2="16.65"/><line x1="435.45" y1="13.35" x2="435.45" y2="16.65"/><line x1="468.23" y1="13.35" x2="468.23" y2="16.65"/><line x1="533.80" y1="13.35" x2="533.80" y2="16.65"/><line x1="566.59" y1="13.35" x2="566.59" y2="16.65"/><line x1="599.37" y1="13.35" x2="599.37" y2="16.65"/><line x1="664.95" y1="13.35" x2="664.95" y2="16.65"/><line x1="697.73" y1="13.35" x2="697.73" y2="16.65"/><line x1="730.51" y1="13.35" x2="730.51" y2="16.65"/><line x1="763.30" y1="398.15" x2="760.00" y2="398.15"/><line x1="763.30" y1="377.89" x2="760.00" y2="377.89"/><line x1="763.30" y1="357.64" x2="760.00" y2="357.64"/><line x1="763.30" y1="337.39" x2="760.00" y2="337.39"/><line x1="763.30" y1="296.88" x2="760.00" y2="296.88"/><line x1="763.30" y1="276.63" x2="760.00" y2="276.63"/><line x1="763.30" y1="256.38" x2="760.00" y2="256.38"/><line x1="763.30" y1="236.13" x2="760.00" y2="236.13"/><line x1="763.30" y1="195.62" x2="760.00" y2="195.62"/><line x1="763.30" y1="175.37" x2="760.00" y2="175.37"/><line x1="763.30" y1="155.12" x2="760.00" y2="155.12"/><line x1="763.30" y1="134.87" x2="760.00" y2="134.87"/><line x1="763.30" y1="94.36" x2="760.00" y2="94.36"/><line x1="763.30" y1="74.11" x2="760.00" y2="74.11"/><line x1="763.30" y1="53.86" x2="760.00" y2="53.86"/><line x1="763.30" y1="33.60" x2="760.00" y2="33.60"/>
</g>
<rect x="107.6" y="13.35" width="655.70" height="405.05" fill="none" stroke="#000" stroke-width="2.5"/>
<g>
<text x="100.6" y="425.20" text-anchor="end">0</text>
<text x="100.6" y="323.94" text-anchor="end">500</text>
<text x="100.6" y="222.68" text-anchor="end">1000</text>
<text x="100.6" y="121.41" text-anchor="end">1500</text>
<text x="100.6" y="20.15" text-anchor="end">2000</text>
</g>
<g>
<text x="107.3" y="445.6" text-anchor="middle">0</text>
<text x="197.90" y="449.90">2</text>
<path d="M218.40,436.90 L231.20,449.50 M218.40,449.50 L231.20,436.90" stroke="#000" stroke-width="1.35" fill="none"/>
<text x="238.40" y="449.90">1</text>
<text x="251.50" y="449.90">0</text>
<text x="265.40" y="440.60" style="font-size:20.4px">6</text>
<text x="329.04" y="449.90">4</text>
<path d="M349.54,436.90 L362.34,449.50 M349.54,449.50 L362.34,436.90" stroke="#000" stroke-width="1.35" fill="none"/>
<text x="369.54" y="449.90">1</text>
<text x="382.64" y="449.90">0</text>
<text x="396.54" y="440.60" style="font-size:20.4px">6</text>
<text x="460.18" y="449.90">6</text>
<path d="M480.68,436.90 L493.48,449.50 M480.68,449.50 L493.48,436.90" stroke="#000" stroke-width="1.35" fill="none"/>
<text x="500.68" y="449.90">1</text>
<text x="513.78" y="449.90">0</text>
<text x="527.68" y="440.60" style="font-size:20.4px">6</text>
<text x="591.32" y="449.90">8</text>
<path d="M611.82,436.90 L624.62,449.50 M611.82,449.50 L624.62,436.90" stroke="#000" stroke-width="1.35" fill="none"/>
<text x="631.82" y="449.90">1</text>
<text x="644.92" y="449.90">0</text>
<text x="658.82" y="440.60" style="font-size:20.4px">6</text>
<text x="722.60" y="445.60">1</text>
<path d="M743.10,432.60 L755.90,445.20 M743.10,445.20 L755.90,432.60" stroke="#000" stroke-width="1.35" fill="none"/>
<text x="763.10" y="445.60">1</text>
<text x="776.20" y="445.60">0</text>
<text x="789.50" y="436.30" style="font-size:20.4px">7</text>
</g>
<text x="412.5" y="489.6" font-style="italic">T</text>
<line x1="429.5" y1="494.3" x2="436.7" y2="472.2" stroke="#000" stroke-width="1.4"/>
<text x="436.9" y="489.6">K</text>
<g transform="translate(27,268.9) rotate(-90)">
<text x="1.3" y="0" font-style="italic">ρ</text>
<line x1="15.8" y1="4.2" x2="22.9" y2="-17.7" stroke="#000" stroke-width="1.4"/>
<text x="23.5" y="0">g</text>
<text x="44.3" y="0">cm</text>
<line x1="78.9" y1="-15.5" x2="89.1" y2="-15.5" stroke="#000" stroke-width="1.35"/>
<text x="91.0" y="-9.7" style="font-size:20.4px">3</text>
</g>
</svg>
</body></html>
